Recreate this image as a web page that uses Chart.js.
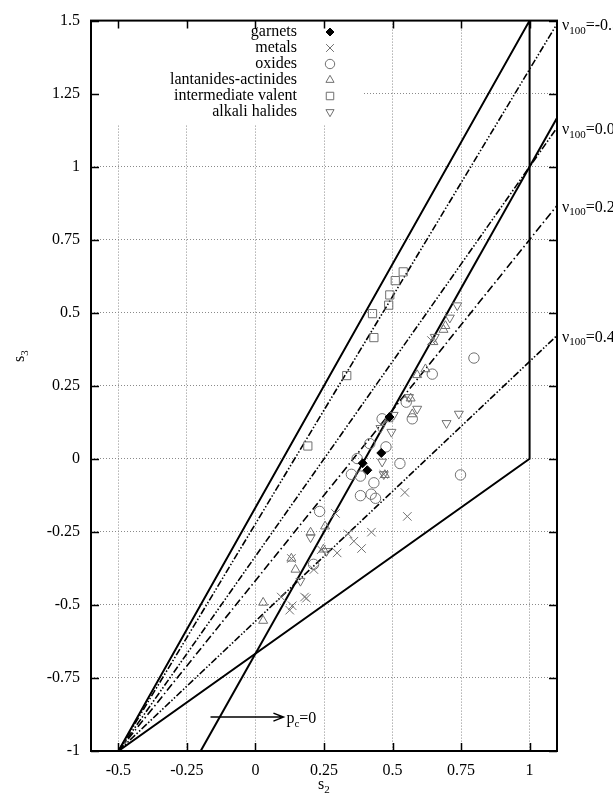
<!DOCTYPE html>
<html>
<head>
<meta charset="utf-8">
<script src="https://cdn.jsdelivr.net/npm/chart.js@4.4.1/dist/chart.umd.min.js"></script>
<style>
  body { margin: 0; background: #fff; }
</style>
</head>
<body>
<canvas id="myChart" width="613" height="802"></canvas>
<script>
// axis ticks
var xTicks = [-0.5, -0.25, 0, 0.25, 0.5, 0.75, 1];
var yTicks = [-1, -0.75, -0.5, -0.25, 0, 0.25, 0.5, 0.75, 1, 1.25, 1.5];

// measured points, [s2, s3]
var garnets = [[0.459, 0.020], [0.391, -0.015], [0.408, -0.039], [0.489, 0.143]];
var metals = [[0.545, -0.115], [0.554, -0.197], [0.292, -0.187], [0.338, -0.257], [0.423, -0.251],
  [0.359, -0.282], [0.387, -0.307], [0.298, -0.322], [0.240, -0.311], [0.131, -0.341],
  [0.213, -0.379], [0.094, -0.473], [0.134, -0.503], [0.125, -0.518], [0.179, -0.473],
  [0.186, -0.477], [0.468, -0.053], [0.642, 0.405]];
var oxides = [[0.645, 0.290], [0.797, 0.345], [0.550, 0.194], [0.572, 0.137], [0.462, 0.137],
  [0.417, 0.052], [0.476, 0.041], [0.371, 0.001], [0.527, -0.016], [0.350, -0.053],
  [0.383, -0.059], [0.432, -0.082], [0.748, -0.055], [0.383, -0.126], [0.422, -0.121],
  [0.438, -0.135], [0.234, -0.180], [0.212, -0.361]];
var lantanides = [[0.693, 0.455], [0.686, 0.442], [0.649, 0.400], [0.620, 0.307], [0.590, 0.287],
  [0.566, 0.207], [0.572, 0.153], [0.485, 0.136], [0.472, -0.055], [0.254, -0.231],
  [0.201, -0.252], [0.248, -0.310], [0.131, -0.341], [0.146, -0.379], [0.028, -0.492],
  [0.028, -0.554]];
var intermediate = [[0.539, 0.640], [0.510, 0.610], [0.490, 0.561], [0.486, 0.526], [0.427, 0.497],
  [0.432, 0.415], [0.333, 0.285], [0.191, 0.044]];
var alkali = [[0.736, 0.525], [0.709, 0.483], [0.654, 0.417], [0.560, 0.211], [0.590, 0.171],
  [0.742, 0.154], [0.697, 0.122], [0.504, 0.150], [0.496, 0.092], [0.456, 0.105],
  [0.462, -0.010], [0.468, -0.053], [0.201, -0.269], [0.259, -0.316], [0.164, -0.418]];

// boundary lines
var triangleEdge = [[-0.5, -1], [1, 1.5], [1, 0], [-0.5, -1]];
var pcLine = [[-0.2, -1], [1.1, 1.1667]];
// nu100 lines all start at (-0.5,-1) and end at the right border
var nuLabels = ['-0.5', '0.0', '0.2', '0.4'];
var nuEnds = [1.489, 1.133, 0.867, 0.422];
var nuDash = [[7, 2, 1.5, 2, 1.5, 2], [7, 2, 1.5, 2, 1.5, 2], [8, 3, 1.5, 3], [7, 2, 1.5, 2, 1.5, 2]];
// p_c = 0 arrow
var arrowFrom = [-0.164, -0.884];
var arrowTo = [0.102, -0.884];

var FONT = "'Liberation Serif', 'DejaVu Serif', serif";
var GREY = '#707070';

function pts(a) {
  return a.map(function (p) { return { x: p[0], y: p[1] }; });
}

var markerSets = [
  { label: 'garnets', data: garnets, style: 'rectRot', rot: 0, r: 4.5, fill: '#000', stroke: '#000' },
  { label: 'metals', data: metals, style: 'crossRot', rot: 0, r: 6, fill: 'transparent', stroke: GREY },
  { label: 'oxides', data: oxides, style: 'circle', rot: 0, r: 5.2, fill: 'transparent', stroke: GREY },
  { label: 'lantanides-actinides', data: lantanides, style: 'triangle', rot: 0, r: 5.2, fill: 'transparent', stroke: GREY },
  { label: 'intermediate valent', data: intermediate, style: 'rect', rot: 0, r: 5.8, fill: 'transparent', stroke: GREY },
  { label: 'alkali halides', data: alkali, style: 'triangle', rot: 180, r: 5.2, fill: 'transparent', stroke: GREY }
];

var datasets = [];
markerSets.forEach(function (m) {
  datasets.push({
    label: m.label,
    data: pts(m.data),
    pointStyle: m.style,
    rotation: m.rot,
    pointRadius: m.r,
    pointBackgroundColor: m.fill,
    pointBorderColor: m.stroke,
    pointBorderWidth: 1,
    showLine: false
  });
});

datasets.push({
  label: 'edge', data: pts(triangleEdge), showLine: true, pointRadius: 0,
  borderColor: '#000', borderWidth: 2, fill: false
});
datasets.push({
  label: 'pc', data: pts(pcLine), showLine: true, pointRadius: 0,
  borderColor: '#000', borderWidth: 2, fill: false
});
nuEnds.forEach(function (e, i) {
  datasets.push({
    label: 'nu' + nuLabels[i], data: pts([[-0.5, -1], [1.1, e]]), showLine: true, pointRadius: 0,
    borderColor: '#000', borderWidth: 1.6, borderDash: nuDash[i], fill: false
  });
});

function subText(ctx, x, y, parts) {
  // parts: [text, isSub]
  parts.forEach(function (p) {
    if (p[1]) {
      ctx.font = '11px ' + FONT;
      ctx.fillText(p[0], x, y + 5);
    } else {
      ctx.font = '16px ' + FONT;
      ctx.fillText(p[0], x, y);
    }
    x += ctx.measureText(p[0]).width;
  });
}

var decor = {
  id: 'decor',
  beforeDatasetsDraw: function (chart) {
    // key box hides the grid behind it
    var ctx = chart.ctx, a = chart.chartArea;
    ctx.save();
    ctx.fillStyle = '#fff';
    ctx.fillRect(a.left + 1, a.top + 1, 270, 103);
    ctx.restore();
  },
  afterDatasetsDraw: function (chart) {
    var ctx = chart.ctx, a = chart.chartArea;
    var xs = chart.scales.x, ys = chart.scales.y;
    ctx.save();
    // key
    ctx.textAlign = 'right';
    ctx.textBaseline = 'middle';
    ctx.font = '16px ' + FONT;
    markerSets.forEach(function (m, i) {
      var yy = 32 + i * 16;
      ctx.fillStyle = '#000';
      ctx.fillText(m.label, 297, yy);
      ctx.fillStyle = m.fill;
      ctx.strokeStyle = m.stroke;
      ctx.lineWidth = 1;
      Chart.helpers.drawPoint(ctx, { pointStyle: m.style, rotation: m.rot, radius: m.r - 0.5, borderWidth: 1 }, 330, yy);
    });

    // inward ticks and frame
    ctx.strokeStyle = '#000';
    ctx.lineWidth = 1.5;
    ctx.beginPath();
    xTicks.forEach(function (v) {
      var px = Math.round(xs.getPixelForValue(v)) + 0.5;
      ctx.moveTo(px, a.bottom); ctx.lineTo(px, a.bottom - 8);
      ctx.moveTo(px, a.top); ctx.lineTo(px, a.top + 8);
    });
    yTicks.forEach(function (v) {
      var py = Math.round(ys.getPixelForValue(v)) + 0.5;
      ctx.moveTo(a.left, py); ctx.lineTo(a.left + 8, py);
      ctx.moveTo(a.right, py); ctx.lineTo(a.right - 8, py);
    });
    ctx.stroke();
    ctx.lineWidth = 2;
    ctx.strokeRect(a.left, a.top, a.right - a.left, a.bottom - a.top);

    // nu100 labels at line ends
    ctx.fillStyle = '#000';
    ctx.textAlign = 'left';
    ctx.textBaseline = 'middle';
    nuEnds.forEach(function (e, i) {
      var py = ys.getPixelForValue(e);
      subText(ctx, a.right + 5, py + 2, [['ν', false], ['100', true], ['=' + nuLabels[i], false]]);
    });

    // p_c = 0 arrow
    var x0 = xs.getPixelForValue(arrowFrom[0]), x1 = xs.getPixelForValue(arrowTo[0]);
    var y0 = ys.getPixelForValue(arrowFrom[1]);
    ctx.lineWidth = 1.5;
    ctx.beginPath();
    ctx.moveTo(x0, y0); ctx.lineTo(x1, y0);
    ctx.moveTo(x1 - 10, y0 - 4); ctx.lineTo(x1, y0); ctx.lineTo(x1 - 10, y0 + 4);
    ctx.stroke();
    subText(ctx, x1 + 3, y0 + 2, [['p', false], ['c', true], ['=0', false]]);

    // axis titles
    ctx.textAlign = 'left';
    subText(ctx, 318, 785, [['s', false], ['2', true]]);
    ctx.translate(20, 362);
    ctx.rotate(-Math.PI / 2);
    subText(ctx, 0, 0, [['s', false], ['3', true]]);
    ctx.restore();
  }
};

var gridOpts = {
  color: '#8a8a8a',
  lineWidth: 1,
  drawTicks: false
};

new Chart(document.getElementById('myChart'), {
  type: 'scatter',
  data: { datasets: datasets },
  options: {
    responsive: false,
    animation: false,
    layout: { padding: { left: 0, right: 56, top: 15, bottom: 0 } },
    plugins: { legend: { display: false }, tooltip: { enabled: false } },
    scales: {
      x: {
        type: 'linear', min: -0.6, max: 1.1,
        afterBuildTicks: function (s) { s.ticks = xTicks.map(function (v) { return { value: v }; }); },
        afterFit: function (s) { s.height = 51; },
        grid: gridOpts,
        border: { display: false, dash: [1, 2] },
        ticks: { color: '#000', font: { family: FONT, size: 16 }, padding: 10,
          callback: function (v) { return String(v); } }
      },
      y: {
        type: 'linear', min: -1, max: 1.5,
        afterBuildTicks: function (s) { s.ticks = yTicks.map(function (v) { return { value: v }; }); },
        afterFit: function (s) { s.width = 91; },
        grid: gridOpts,
        border: { display: false, dash: [1, 2] },
        ticks: { color: '#000', font: { family: FONT, size: 16 }, padding: 11,
          callback: function (v) { return String(v); } }
      }
    }
  },
  plugins: [decor]
});
</script>
</body>
</html>
